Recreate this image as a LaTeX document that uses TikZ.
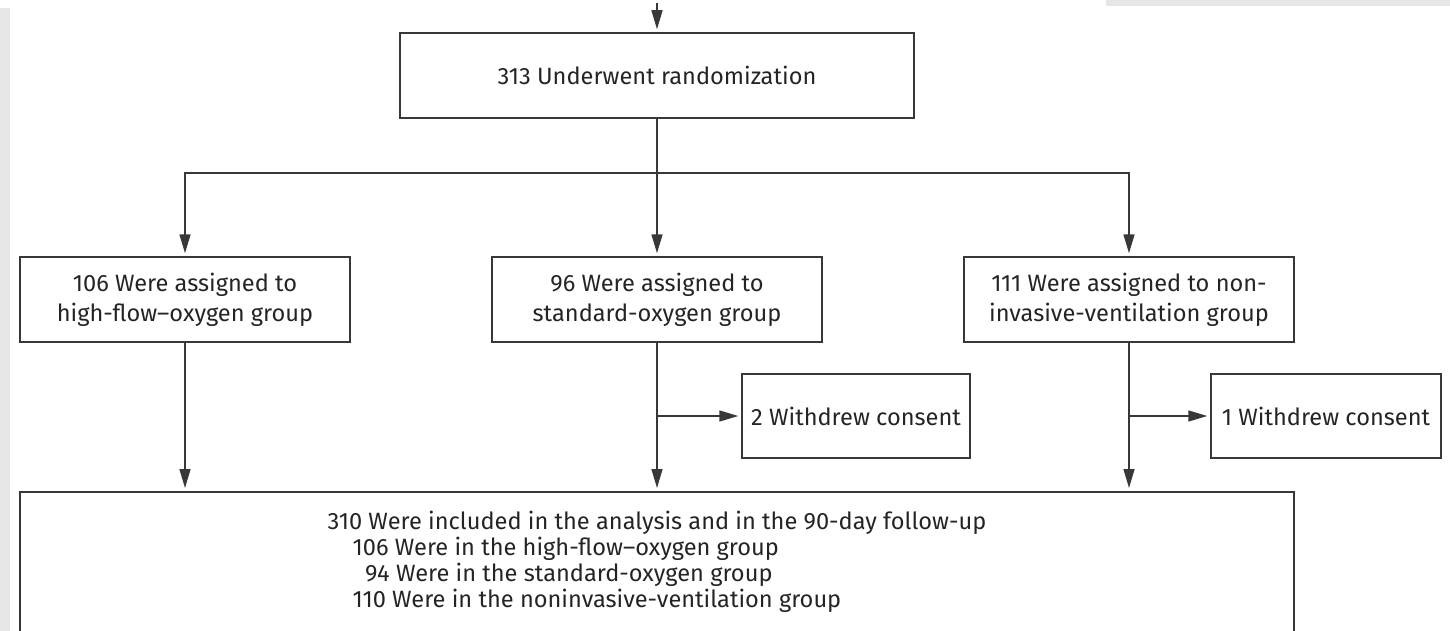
\documentclass[tikz,border=0pt]{standalone}
\usepackage{fontspec}
\setmainfont{Fira Sans}
\usetikzlibrary{positioning, arrows.meta}
\definecolor{inkgray}{HTML}{383838}
\definecolor{textgray}{HTML}{242424}
\definecolor{panelgray}{HTML}{E6E6E6}

\begin{document}
\begin{tikzpicture}[
  x=0.5pt, y=-0.5pt,
  >={Triangle[length=9.5pt, width=5.5pt]},
  every node/.style={font=\fontsize{11.8pt}{15pt}\selectfont, text=textgray},
  box/.style  = {draw=inkgray, line width=0.75pt, inner sep=0pt, align=center},
  arm/.style  = {draw=inkgray, line width=0.75pt},
  arr/.style  = {->, draw=inkgray, line width=0.75pt, shorten >=1.5pt},
]
  \useasboundingbox (0,0) rectangle (1450,631);
  \clip (0,0) rectangle (1450,631);
  % page margins of the scan
  \fill[panelgray] (0,8) rectangle (10,631);
  \fill[panelgray] (1106,0) rectangle (1450,6);

  \node[box, minimum width=257pt, minimum height=42.5pt] (rand) at (657,75.5) {313 Underwent randomization};
  \node[box, minimum width=165pt, minimum height=42.5pt] (hfo)  at (185,299.5)  {106 Were assigned to\\high-flow--oxygen group};
  \node[box, minimum width=165pt, minimum height=42.5pt] (std)  at (657,299.5)  {96 Were assigned to\\standard-oxygen group};
  \node[box, minimum width=165pt, minimum height=42.5pt] (niv)  at (1129,299.5) {111 Were assigned to non-\\invasive-ventilation group};
  \node[box, minimum width=114pt, minimum height=42pt] (wdstd) at (856,416)  {2 Withdrew consent};
  \node[box, minimum width=115pt, minimum height=42pt] (wdniv) at (1326,416) {1 Withdrew consent};
  \node[box, anchor=north, minimum width=637pt, inner ysep=0pt, text height=19pt, text depth=70pt,
        font=\fontsize{11.8pt}{12.7pt}\selectfont] (incl) at (657,491)
    {\begin{tabular}[t]{@{}l@{}}
      310 Were included in the analysis and in the 90-day follow-up\\
      \hspace{12.5pt}106 Were in the high-flow--oxygen group\\
      \hspace{12.5pt}\phantom{9}94 Were in the standard-oxygen group\\
      \hspace{12.5pt}110 Were in the noninvasive-ventilation group
    \end{tabular}};

  \coordinate (screen) at (657,3);
  \coordinate (split)  at (657,173);

  \draw[arr] (screen) -- (rand);
  \draw[arm] (rand) -- (split);
  \draw[arr] (split) -| (hfo);
  \draw[arr] (split) -- (std);
  \draw[arr] (split) -| (niv);
  \draw[arr] (hfo) -- (hfo |- incl.north);
  \draw[arr] (std) -- (std |- incl.north);
  \draw[arr] (niv) -- (niv |- incl.north);
  \draw[arr] (std |- wdstd) -- (wdstd);
  \draw[arr] (niv |- wdniv) -- (wdniv);
\end{tikzpicture}
\end{document}
